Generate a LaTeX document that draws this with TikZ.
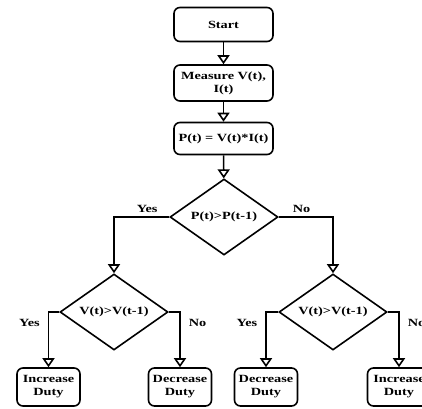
\documentclass[tikz,border=0pt]{standalone}
\usepackage{fontspec}
\setmainfont{Liberation Serif}[FakeStretch=1.3]
\usepackage{tikz}
\usetikzlibrary{arrows.meta,shapes.geometric}

\begin{document}
\begin{tikzpicture}[x=1pt,y=-1pt,line width=1.6pt,
		box/.style={draw,rounded corners=6pt,align=center,font=\bfseries\fontsize{11}{13}\selectfont,inner sep=2pt},
		bigbox/.style={box,minimum width=99pt,minimum height=34pt},
		smallbox/.style={box,minimum width=63pt,minimum height=38pt},
		decision/.style={draw,diamond,minimum width=108pt,minimum height=76pt,inner sep=0pt,aspect=1.42,font=\bfseries\fontsize{11}{13}\selectfont},
		lbl/.style={font=\bfseries\fontsize{11}{13}\selectfont},
		flow/.style={-{Triangle[open,length=9pt,width=12pt]}}]
		\useasboundingbox (0,0) rectangle (422,408);
		\clip (0,0) rectangle (422,408);
		
		\node[bigbox] (start) at (223.5,24.5) {Start};
		\node[bigbox,minimum height=36pt] (meas) at (223.5,83) {Measure V(t),\\I(t)};
		\node[bigbox,minimum height=32pt] (power) at (223.5,138.5) {P(t) = V(t)*I(t)};
		
		\node[decision] (dp) at (224,217) {P(t)>P(t-1)};
		\node[decision] (dvl) at (114,312) {V(t)>V(t-1)};
		\node[decision] (dvr) at (333,312) {V(t)>V(t-1)};
		
		\node[smallbox] (incl) at (48.5,387) {Increase\\Duty};
		\node[smallbox] (decl) at (180,387) {Decrease\\Duty};
		\node[smallbox] (decr) at (266,387) {Decrease\\Duty};
		\node[smallbox] (incr) at (399,387) {Increase\\Duty};
		
		\draw[flow] (start) -- (meas);
		\draw[flow] (meas) -- (power);
		\draw[flow] (power) -- (dp);
		
		\draw[flow] (dp.west) -| node[lbl,pos=0.2,above] {Yes} (dvl.north);
		\draw[flow] (dp.east) -| node[lbl,pos=0.21,above] {No} (dvr.north);
		
		\draw[flow] (dvl.west) -| node[lbl,pos=0.6,left,inner sep=8pt] {Yes} (incl.north);
		\draw[flow] (dvl.east) -| node[lbl,pos=0.6,right,inner sep=8pt] {No} (decl.north);
		\draw[flow] (dvr.west) -| node[lbl,pos=0.6,left,inner sep=8pt] {Yes} (decr.north);
		\draw[flow] (dvr.east) -| node[lbl,pos=0.6,right,inner sep=8pt] {No} (incr.north);
	\end{tikzpicture}
\end{document}
